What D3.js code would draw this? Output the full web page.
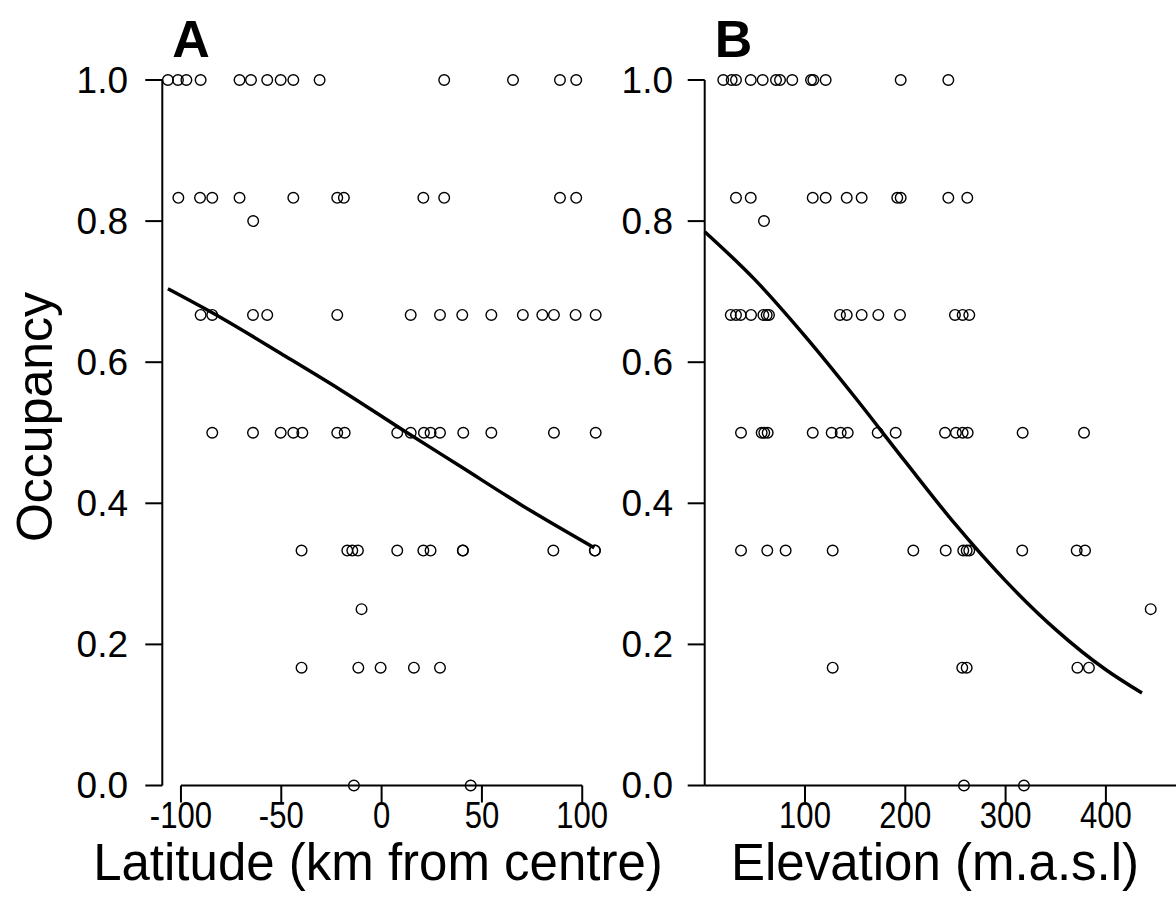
<!DOCTYPE html>
<html>
<head>
<meta charset="utf-8">
<script src="https://cdn.jsdelivr.net/npm/d3@7"></script>
<style>
    body { margin: 0; background: #fff; }
    svg { display: block; font-family: "Liberation Sans", Arial, sans-serif; }
</style>
</head>
<body>
<svg id="chart" width="1176" height="923"></svg>
<script>
// ----- occupancy levels (proportion of visits)
var levels = [1.0, 0.833, 0.8, 0.667, 0.5, 0.333, 0.25, 0.167, 0.0];

// ----- panel A: latitude (km from centre) of each site, grouped by occupancy level
var latAt100 = [-106.5, -101.5, -97.3, -90.2, -70.8, -65.1, -57, -50.3, -44, -30.9, 31.2, 65.5, 88.9, 97];
var latAt083 = [-101.3, -90.5, -84.4, -70.8, -44, -22.1, -18.8, 20.8, 31.2, 88.9, 97];
var latAt080 = [-64];
var latAt067 = [-90.2, -84.4, -64.1, -57, -22.1, 14.5, 29.1, 40.2, 54.7, 70.4, 80.1, 85.9, 96.7, 106.7];
var latAt050 = [-84.4, -64.1, -50.3, -44, -39.5, -22.1, -18.4, 7.8, 14.5, 21.1, 24.4, 29.1, 40.7, 54.7, 85.9, 106.7];
var latAt033 = [-39.9, -17.1, -14.6, -11.8, 7.8, 20.8, 24.4, 40.5, 40.5, 85.6, 106.3, 106.3];
var latAt025 = [-10];
var latAt017 = [-39.9, -11.6, -0.5, 16.1, 29.1];
var latAt000 = [-13.8, 44.4];

// fitted line, panel A
var latFitX = [-106.5, -80, -50, -20, 10, 40, 70, 106];
var latFitY = [0.704, 0.663, 0.612, 0.560, 0.505, 0.451, 0.397, 0.337];

// ----- panel B: elevation (m.a.s.l) of each site, grouped by occupancy level
var elevAt100 = [18.5, 26.9, 31.2, 45.9, 57.8, 71.1, 75.1, 87.3, 106, 108.3, 120.6, 195.4, 242.9];
var elevAt083 = [31.2, 45.9, 107.7, 120.6, 141.6, 156.5, 192, 195.4, 242.9, 261.8];
var elevAt080 = [59.1];
var elevAt067 = [26, 31.2, 35.9, 46.2, 58.5, 61.8, 64.1, 134.9, 141.6, 156.5, 173.1, 194.7, 249.5, 257.2, 263.8];
var elevAt050 = [36.2, 56.8, 59.4, 62.8, 107.7, 126.6, 135.6, 142.6, 172.5, 190.4, 239.6, 250.5, 257.2, 262.2, 317, 378.2];
var elevAt033 = [36.2, 62.4, 80.7, 127.6, 208, 240.3, 257.8, 261.2, 263.8, 316.6, 370.9, 379.2];
var elevAt025 = [444.7];
var elevAt017 = [127.6, 256.8, 261.2, 371.6, 383.1];
var elevAt000 = [258.5, 318.3];

// fitted line, panel B
var elevFitX = [0, 50, 100, 150, 200, 250, 300, 350, 400, 436];
var elevFitY = [0.785, 0.717, 0.637, 0.550, 0.459, 0.370, 0.290, 0.221, 0.164, 0.131];

// ----- tick labels
var yTicks = [0, 0.2, 0.4, 0.6, 0.8, 1.0];
var latTicks = [-100, -50, 0, 50, 100];
var elevTicks = [100, 200, 300, 400];

var svg = d3.select("#chart");

var y = d3.scaleLinear().domain([0, 1]).range([785.5, 80]);

drawPanel({
    letter: "A",
    x: d3.scaleLinear().domain([-109.3, 109.3]).range([162.3, 600.9]),
    groups: [latAt100, latAt083, latAt080, latAt067, latAt050, latAt033, latAt025, latAt017, latAt000],
    fitX: latFitX, fitY: latFitY,
    xTicks: latTicks,
    xAxisFull: false,
    xTitle: "Latitude (km from centre)",
    titleX: 378,
    yLabelX: 128
});

drawPanel({
    letter: "B",
    x: d3.scaleLinear().domain([0, 470]).range([704.7, 1176.1]),
    groups: [elevAt100, elevAt083, elevAt080, elevAt067, elevAt050, elevAt033, elevAt025, elevAt017, elevAt000],
    fitX: elevFitX, fitY: elevFitY,
    xTicks: elevTicks,
    xAxisFull: true,
    xTitle: "Elevation (m.a.s.l)",
    titleX: 935,
    yLabelX: 673
});

// y title, only once on the left
svg.append("text")
    .attr("transform", "translate(52,417) rotate(-90)")
    .attr("text-anchor", "middle")
    .style("font-size", "50px")
    .text("Occupancy");

function drawPanel(p) {
    var x = p.x;
    var x0 = x.range()[0];
    var g = svg.append("g");

    // ----- y axis (R style: line only over the tick range)
    g.append("line")
        .attr("x1", x0).attr("x2", x0)
        .attr("y1", y(0)).attr("y2", y(1))
        .attr("stroke", "#000").attr("stroke-width", 2);
    yTicks.forEach(function (t) {
        g.append("line")
            .attr("x1", x0 - 17).attr("x2", x0)
            .attr("y1", y(t)).attr("y2", y(t))
            .attr("stroke", "#000").attr("stroke-width", 2);
        g.append("text")
            .attr("x", p.yLabelX).attr("y", y(t))
            .attr("dy", "0.35em")
            .attr("text-anchor", "end")
            .style("font-size", "37px")
            .text(t.toFixed(1));
    });

    // ----- x axis
    var xa = p.xAxisFull ? [x0, x.range()[1]] : [x(p.xTicks[0]), x(p.xTicks[p.xTicks.length - 1])];
    g.append("line")
        .attr("x1", xa[0]).attr("x2", xa[1])
        .attr("y1", y(0)).attr("y2", y(0))
        .attr("stroke", "#000").attr("stroke-width", 2);
    p.xTicks.forEach(function (t) {
        g.append("line")
            .attr("x1", x(t)).attr("x2", x(t))
            .attr("y1", y(0)).attr("y2", y(0) + 17)
            .attr("stroke", "#000").attr("stroke-width", 2);
        // tick labels are narrower in the original
        g.append("text")
            .attr("transform", "translate(" + x(t) + "," + (y(0) + 30) + ") scale(0.84,1)")
            .attr("dy", "0.35em")
            .attr("text-anchor", "middle")
            .style("font-size", "37px")
            .text(t);
    });

    g.append("text")
        .attr("x", p.titleX)
        .attr("y", 880)
        .attr("text-anchor", "middle")
        .style("font-size", "51px")
        .text(p.xTitle);

    // panel letter
    g.append("text")
        .attr("x", x0 + 10).attr("y", 57)
        .style("font-size", "52px")
        .style("font-weight", "bold")
        .text(p.letter);

    // ----- points
    p.groups.forEach(function (vals, i) {
        g.selectAll(null)
            .data(vals)
            .enter().append("circle")
            .attr("cx", function (d) { return x(d); })
            .attr("cy", y(levels[i]))
            .attr("r", 5.3)
            .attr("fill", "none")
            .attr("stroke", "#000")
            .attr("stroke-width", 1.4);
    });

    // ----- fitted line
    var line = d3.line()
        .curve(d3.curveMonotoneX)
        .x(function (d) { return x(d[0]); })
        .y(function (d) { return y(d[1]); });
    g.append("path")
        .datum(d3.zip(p.fitX, p.fitY))
        .attr("d", line)
        .attr("fill", "none")
        .attr("stroke", "#000")
        .attr("stroke-width", 3.5);
}
</script>
</body>
</html>
